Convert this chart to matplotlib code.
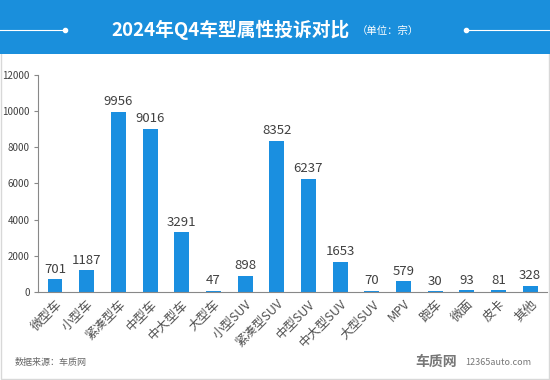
import numpy as np
import matplotlib.pyplot as plt
from matplotlib.patches import Rectangle
from matplotlib.lines import Line2D

plt.rcParams['font.family'] = ['Noto Sans CJK SC', 'DejaVu Sans']

categories = ['微型车', '小型车', '紧凑型车', '中型车', '中大型车', '大型车', '小型SUV', '紧凑型SUV',
              '中型SUV', '中大型SUV', '大型SUV', 'MPV', '跑车', '微面', '皮卡', '其他']
values = [701, 1187, 9956, 9016, 3291, 47, 898, 8352, 6237, 1653, 70, 579, 30, 93, 81, 328]
yticks = [0, 2000, 4000, 6000, 8000, 10000, 12000]

blue = '#1a8fe0'
fig = plt.figure(figsize=(5.5, 3.8), dpi=100)

# frame
fig.patches.append(Rectangle((0.002, 0.003), 0.996, 0.994, transform=fig.transFigure,
                             facecolor='none', edgecolor='#d8d8d8', lw=1, zorder=0))

# header band
fig.patches.append(Rectangle((0, 0.858), 1, 0.142, transform=fig.transFigure,
                             facecolor='#1a8fdc', edgecolor='none', zorder=1))
fig.text(0.42, 0.921, '2024年Q4车型属性投诉对比', ha='center', va='center',
         color='white', fontsize=13.5, fontweight='bold')
fig.text(0.705, 0.918, '（单位：宗）', ha='center', va='center', color='white', fontsize=7.5)
fig.lines.append(Line2D([0, 0.118], [0.921, 0.921], transform=fig.transFigure, color='white', lw=0.8))
fig.lines.append(Line2D([0.118], [0.921], transform=fig.transFigure, color='white', marker='o', ms=3))
fig.lines.append(Line2D([0.848, 1], [0.921, 0.921], transform=fig.transFigure, color='white', lw=0.8))
fig.lines.append(Line2D([0.848], [0.921], transform=fig.transFigure, color='white', marker='o', ms=3))

ax = fig.add_axes([0.069, 0.232, 0.926, 0.571])
x = np.arange(len(categories))
ax.bar(x, values, width=0.47, color=blue)
for xi, v in zip(x, values):
    ax.text(xi, v + 200, str(v), ha='center', va='bottom', fontsize=9.5, color='#404040')

ax.set_xlim(-0.54, len(categories) - 0.46)
ax.set_ylim(0, 12000)
ax.set_yticks(yticks)
ax.set_yticklabels([str(t) for t in yticks], fontsize=7, color='#404040')
ax.set_xticks(x)
ax.set_xticklabels(categories, rotation=45, ha='right', rotation_mode='anchor',
                   fontsize=9, color='#505050')
ax.tick_params(axis='x', length=0, pad=4)
ax.tick_params(axis='y', length=3, color='#888888', pad=3)
for s in ['top', 'right']:
    ax.spines[s].set_visible(False)
for s in ['left', 'bottom']:
    ax.spines[s].set_color('#888888')
    ax.spines[s].set_linewidth(0.8)

fig.text(0.027, 0.047, '数据来源：车质网', fontsize=6.5, color='#666666', va='center')
fig.text(0.755, 0.047, '车质网', fontsize=10, color='#777777', va='center', fontweight='bold')
fig.text(0.845, 0.047, '12365auto.com', fontsize=6.5, color='#777777', va='center')

fig.savefig('out.png', dpi=100)
